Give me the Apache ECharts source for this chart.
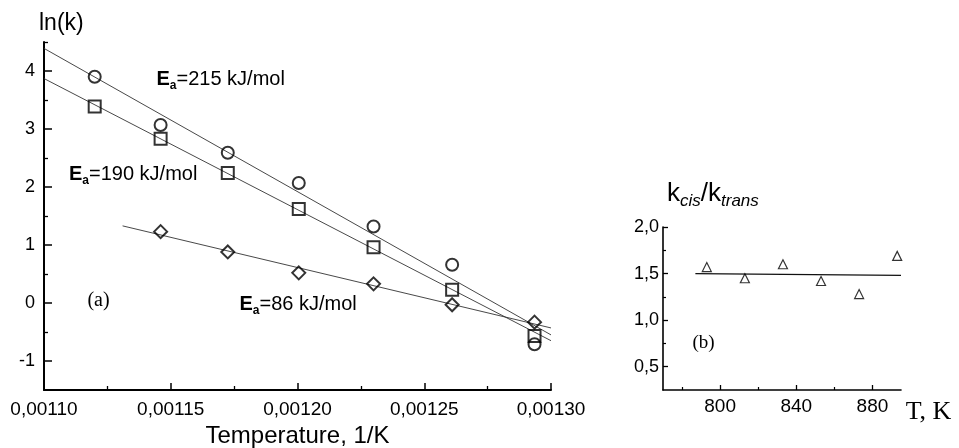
<!DOCTYPE html>
<html>
<head>
<meta charset="utf-8">
<script src="https://cdn.jsdelivr.net/npm/echarts@6/dist/echarts.min.js"></script>
<style>
html,body{margin:0;padding:0;background:#fff;}
#chart{width:959px;height:448px;}
</style>
</head>
<body>
<div id="chart"></div>
<script>
// ---- Panel (a): ln(k) vs 1/T ----
const invT = [0.00112, 0.001146, 0.0011725, 0.0012005, 0.00123, 0.001261, 0.0012935];
const lnkCircle = [3.9, 3.07, 2.59, 2.07, 1.32, 0.66, -0.71];
const lnkSquare = [3.39, 2.83, 2.24, 1.62, 0.96, 0.23, -0.57];
const invTDiamond = [0.001146, 0.0011725, 0.0012005, 0.00123, 0.001261, 0.0012935];
const lnkDiamond = [1.23, 0.88, 0.52, 0.33, -0.03, -0.33];
// fitted lines (end points)
const fitX = [0.0011, 0.0013];
const fitCircle = [4.39, -0.55];
const fitSquare = [3.87, -0.65];
const fitDiamondX = [0.001131, 0.0013];
const fitDiamond = [1.33, -0.43];
// ticks
const xMajorA = [0.0011, 0.00115, 0.0012, 0.00125, 0.0013];
const xMinorA = [0.001125, 0.001175, 0.001225, 0.001275];
const yMajorA = [-1, 0, 1, 2, 3, 4];
const yMinorA = [-0.5, 0.5, 1.5, 2.5, 3.5, 4.5];

// ---- Panel (b): kcis/ktrans vs T ----
const tempK = [793, 813, 833, 853, 873, 893];
const ratio = [1.57, 1.45, 1.60, 1.42, 1.28, 1.69];
const ratioFitT = [787, 895];
const ratioFit = [1.50, 1.48];
const xMajorB = [800, 840, 880];
const xMinorB = [780, 820, 860];
const yMajorB = [0.5, 1.0, 1.5, 2.0];
const yMinorB = [0.75, 1.25, 1.75];

const zip = (a, b) => a.map((v, i) => [v, b[i]]);
const FONT = "'Liberation Sans', Arial, sans-serif";
const SERIF = "'Liberation Serif', 'Times New Roman', serif";

function axisBase(extra) {
  return Object.assign({
    type: 'value',
    splitLine: { show: false },
    axisLine: { show: true, onZero: false, lineStyle: { color: '#000', width: 2 } },
  }, extra);
}

function eaRich() {
  return {
    b: { fontFamily: FONT, fontSize: 20, fontWeight: 'bold', lineHeight: 26, fill: '#000' },
    s: { fontFamily: FONT, fontSize: 12, fontWeight: 'bold', lineHeight: 7, verticalAlign: 'bottom', fill: '#000' },
    n: { fontFamily: FONT, fontSize: 20, lineHeight: 26, fill: '#000' }
  };
}

const chart = echarts.init(document.getElementById('chart'), null, { renderer: 'canvas' });

const option = {
  animation: false,
  backgroundColor: '#fff',
  grid: [
    { left: 44, top: 42, width: 507, height: 348, containLabel: false, outerBoundsMode: 'none' },
    { left: 663, top: 227, width: 238, height: 163, containLabel: false, outerBoundsMode: 'none' }
  ],
  xAxis: [
    axisBase({ gridIndex: 0, position: 'bottom', min: 0.0011, max: 0.0013,
      axisTick: { inside: true, length: 7, customValues: xMajorA, lineStyle: { color: '#000', width: 1.5 } },
      axisLabel: { customValues: xMajorA, margin: 10, color: '#000', fontFamily: FONT, fontSize: 19,
        formatter: v => v.toFixed(5).replace('.', ',') } }),
    axisBase({ gridIndex: 0, position: 'bottom', min: 0.0011, max: 0.0013,
      axisLine: { show: false, onZero: false },
      axisTick: { inside: true, length: 4, customValues: xMinorA, lineStyle: { color: '#000', width: 1.3 } },
      axisLabel: { show: false } }),
    axisBase({ gridIndex: 1, position: 'bottom', min: 770, max: 895,
      axisLine: { show: true, onZero: false, lineStyle: { color: '#000', width: 1.6 } },
      axisTick: { inside: true, length: 5, customValues: xMajorB, lineStyle: { color: '#000', width: 1.3 } },
      axisLabel: { customValues: xMajorB, margin: 7, color: '#000', fontFamily: FONT, fontSize: 19 } }),
    axisBase({ gridIndex: 1, position: 'bottom', min: 770, max: 895,
      axisLine: { show: false, onZero: false },
      axisTick: { inside: true, length: 3, customValues: xMinorB, lineStyle: { color: '#000', width: 1.2 } },
      axisLabel: { show: false } })
  ],
  yAxis: [
    axisBase({ gridIndex: 0, position: 'left', min: -1.5, max: 4.5,
      axisTick: { inside: true, length: 8, customValues: yMajorA, lineStyle: { color: '#000', width: 1.5 } },
      axisLabel: { customValues: yMajorA, margin: 9, color: '#000', fontFamily: FONT, fontSize: 18 } }),
    axisBase({ gridIndex: 0, position: 'left', min: -1.5, max: 4.5,
      axisLine: { show: false, onZero: false },
      axisTick: { inside: true, length: 4, customValues: yMinorA, lineStyle: { color: '#000', width: 1.3 } },
      axisLabel: { show: false } }),
    axisBase({ gridIndex: 1, position: 'left', min: 0.25, max: 2.0,
      axisLine: { show: true, onZero: false, lineStyle: { color: '#000', width: 1.6 } },
      axisTick: { inside: true, length: 5, customValues: yMajorB, lineStyle: { color: '#000', width: 1.3 } },
      axisLabel: { customValues: yMajorB, margin: 4, color: '#000', fontFamily: FONT, fontSize: 18,
        formatter: v => v.toFixed(1).replace('.', ',') } }),
    axisBase({ gridIndex: 1, position: 'left', min: 0.25, max: 2.0,
      axisLine: { show: false, onZero: false },
      axisTick: { inside: true, length: 3, customValues: yMinorB, lineStyle: { color: '#000', width: 1.2 } },
      axisLabel: { show: false } })
  ],
  series: [
    { type: 'line', xAxisIndex: 0, yAxisIndex: 0, data: zip(fitX, fitCircle), symbol: 'none',
      lineStyle: { color: '#333', width: 0.9 }, z: 2 },
    { type: 'line', xAxisIndex: 0, yAxisIndex: 0, data: zip(fitX, fitSquare), symbol: 'none',
      lineStyle: { color: '#333', width: 0.9 }, z: 2 },
    { type: 'line', xAxisIndex: 0, yAxisIndex: 0, data: zip(fitDiamondX, fitDiamond), symbol: 'none',
      lineStyle: { color: '#333', width: 0.9 }, z: 2 },
    { type: 'scatter', xAxisIndex: 0, yAxisIndex: 0, data: zip(invT, lnkCircle), symbol: 'circle', symbolSize: 12,
      itemStyle: { color: 'rgba(0,0,0,0)', borderColor: '#000', borderWidth: 2 }, z: 3 },
    { type: 'scatter', xAxisIndex: 0, yAxisIndex: 0, data: zip(invT, lnkSquare), symbol: 'rect', symbolSize: 12,
      itemStyle: { color: 'rgba(0,0,0,0)', borderColor: '#000', borderWidth: 2 }, z: 3 },
    { type: 'scatter', xAxisIndex: 0, yAxisIndex: 0, data: zip(invTDiamond, lnkDiamond), symbol: 'diamond', symbolSize: 13,
      itemStyle: { color: 'rgba(0,0,0,0)', borderColor: '#000', borderWidth: 2 }, z: 3 },
    { type: 'line', xAxisIndex: 2, yAxisIndex: 2, data: zip(ratioFitT, ratioFit), symbol: 'none',
      lineStyle: { color: '#111', width: 1.3 }, z: 2 },
    { type: 'scatter', xAxisIndex: 2, yAxisIndex: 2, data: zip(tempK, ratio), symbol: 'triangle', symbolSize: 9,
      itemStyle: { color: 'rgba(0,0,0,0)', borderColor: '#000', borderWidth: 1.2 }, z: 3 }
  ],
  graphic: [
    { type: 'text', x: 39, y: 24, style: { text: 'ln(k)', font: '23px ' + FONT, fill: '#000', align: 'left', verticalAlign: 'middle' } },
    { type: 'text', x: 297.5, y: 436, style: { text: 'Temperature, 1/K', font: '24px ' + FONT, fill: '#000', align: 'center', verticalAlign: 'middle' } },
    { type: 'text', x: 156.5, y: 79, style: { text: '{b|E}{s|a}{n|=215 kJ/mol}', align: 'left', verticalAlign: 'middle', rich: eaRich() } },
    { type: 'text', x: 69, y: 174, style: { text: '{b|E}{s|a}{n|=190 kJ/mol}', align: 'left', verticalAlign: 'middle', rich: eaRich() } },
    { type: 'text', x: 239.5, y: 304, style: { text: '{b|E}{s|a}{n|=86 kJ/mol}', align: 'left', verticalAlign: 'middle', rich: eaRich() } },
    { type: 'text', x: 98.5, y: 301, style: { text: '(a)', font: '20px ' + SERIF, fill: '#000', align: 'center', verticalAlign: 'middle' } },
    { type: 'text', x: 703.5, y: 343, style: { text: '(b)', font: '19px ' + SERIF, fill: '#000', align: 'center', verticalAlign: 'middle' } },
    { type: 'text', x: 928.5, y: 412, style: { text: 'T, K', font: '26px ' + SERIF, fill: '#000', align: 'center', verticalAlign: 'middle' } },
    { type: 'text', x: 667, y: 194, style: { text: '{k|k}{s|cis}{k|/k}{s|trans}', align: 'left', verticalAlign: 'middle',
      rich: { k: { fontFamily: FONT, fontSize: 26, lineHeight: 32, fill: '#000' },
              s: { fontFamily: FONT, fontSize: 17, fontStyle: 'italic', lineHeight: 7, verticalAlign: 'bottom', fill: '#000' } } } }
  ]
};
chart.setOption(option);
</script>
</body>
</html>
